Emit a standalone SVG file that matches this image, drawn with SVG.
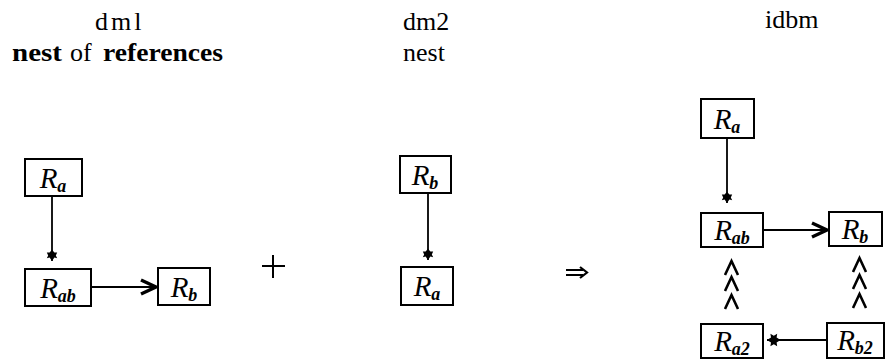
<svg xmlns="http://www.w3.org/2000/svg" width="888" height="361" viewBox="0 0 888 361">
<style>
.hdr{font-size:26px;fill:#000}
.bold{font-size:26px;font-weight:bold;fill:#000}
.box{fill:#fff;stroke:#000;stroke-width:2}
.lbl{font-style:italic;font-size:29px;fill:#000;text-anchor:middle}
.sub{font-size:18px;font-weight:bold}
.ln{stroke:#000;stroke-width:1.8;fill:none}
.chev{stroke:#000;stroke-width:2.6;fill:none;stroke-linejoin:miter}
</style>
<defs>
<marker id="starS" markerUnits="userSpaceOnUse" markerWidth="16" markerHeight="16" viewBox="-13 -8 16 16" refX="0" refY="0" orient="auto">
<polygon points="0,0 -3.4,2.4 -2.8,5.2 -5.6,3.8 -8.4,5.2 -8.4,2.4 -11.2,0 -8.4,-2.4 -8.4,-5.2 -5.6,-3.8 -2.8,-5.2 -3.4,-2.4" fill="#000"/>
</marker>
<marker id="starL" markerUnits="userSpaceOnUse" markerWidth="18" markerHeight="18" viewBox="-15 -9 18 18" refX="0" refY="0" orient="auto">
<polygon points="0,0 -4,2.4 -3.4,6.2 -6.8,4.2 -10.2,6.2 -9.6,2.4 -13.6,0 -9.6,-2.4 -10.2,-6.2 -6.8,-4.2 -3.4,-6.2 -4,-2.4" fill="#000"/>
</marker>
<marker id="vee" markerUnits="userSpaceOnUse" markerWidth="22" markerHeight="20" viewBox="-19 -10 22 20" refX="0" refY="0" orient="auto">
<path d="M-16,-7 L-1,0 L-16,7" fill="none" stroke="#000" stroke-width="3.4" stroke-linejoin="miter"/>
</marker>
</defs>

<g id="headers" font-family="Liberation Serif, Tinos, Times New Roman, Times, Noto Serif, DejaVu Serif, FreeSerif, serif">
<text class="hdr" x="95" y="30" letter-spacing="3">dml</text>
<text class="bold" x="12" y="61" textLength="50" lengthAdjust="spacingAndGlyphs">nest</text>
<text class="hdr" x="70" y="61">of</text>
<text class="bold" x="103" y="61" textLength="120" lengthAdjust="spacingAndGlyphs">references</text>
<text class="hdr" x="403" y="30">dm2</text>
<text class="hdr" x="403" y="61">nest</text>
<text class="hdr" x="765" y="28">idbm</text>
</g>

<g id="connectors">
<line class="ln" x1="52" y1="196" x2="52" y2="261" marker-end="url(#starS)"/>
<line class="ln" x1="91" y1="287" x2="157" y2="287" marker-end="url(#vee)"/>
<line class="ln" x1="428" y1="193" x2="428" y2="260" marker-end="url(#starS)"/>
<line class="ln" x1="727" y1="138" x2="727" y2="203" marker-end="url(#starS)"/>
<line class="ln" x1="763" y1="230" x2="828" y2="230" marker-end="url(#vee)"/>
<line class="ln" x1="827" y1="340" x2="767" y2="340" marker-end="url(#starL)"/>
<path class="chev" d="M725,275 L731.5,261 L738,275 M725,291 L731.5,277 L738,291 M725,309 L731.5,295 L738,309"/>
<path class="chev" d="M853,272 L859.5,258 L866,272 M853,289 L859.5,275 L866,289 M853,308 L859.5,294 L866,308"/>
</g>

<g id="plus">
<path d="M262,266 H285 M273,255 V278" stroke="#000" stroke-width="2" fill="none"/>
</g>
<g id="implies">
<path d="M566,270 H583 M566,275 H583 M580,267 L587,272.5 L580,278" stroke="#000" stroke-width="2.2" fill="none"/>
</g>

<g id="nodes" font-family="Liberation Serif, Tinos, Times New Roman, Times, Noto Serif, DejaVu Serif, FreeSerif, serif">
<g id="dml-Ra">
<rect class="box" x="25" y="159" width="57" height="37"/>
<text class="lbl" x="53" y="188">R<tspan class="sub" dy="4">a</tspan></text>
</g>
<g id="dml-Rab">
<rect class="box" x="25" y="269" width="66" height="37"/>
<text class="lbl" x="58" y="298">R<tspan class="sub" dy="4">ab</tspan></text>
</g>
<g id="dml-Rb">
<rect class="box" x="158" y="268" width="52" height="37"/>
<text class="lbl" x="184" y="297">R<tspan class="sub" dy="4">b</tspan></text>
</g>
<g id="dm2-Rb">
<rect class="box" x="400" y="156" width="51" height="37"/>
<text class="lbl" x="425" y="185">R<tspan class="sub" dy="4">b</tspan></text>
</g>
<g id="dm2-Ra">
<rect class="box" x="401" y="267" width="52" height="38"/>
<text class="lbl" x="427" y="296">R<tspan class="sub" dy="4">a</tspan></text>
</g>
<g id="idbm-Ra">
<rect class="box" x="701" y="99" width="53" height="39"/>
<text class="lbl" x="727" y="129">R<tspan class="sub" dy="4">a</tspan></text>
</g>
<g id="idbm-Rab">
<rect class="box" x="701" y="213" width="62" height="34"/>
<text class="lbl" x="732" y="240">R<tspan class="sub" dy="4">ab</tspan></text>
</g>
<g id="idbm-Rb">
<rect class="box" x="829" y="212" width="53" height="34"/>
<text class="lbl" x="855" y="239">R<tspan class="sub" dy="4">b</tspan></text>
</g>
<g id="idbm-Ra2">
<rect class="box" x="701" y="324" width="62" height="34"/>
<text class="lbl" x="732" y="351">R<tspan class="sub" dy="4">a2</tspan></text>
</g>
<g id="idbm-Rb2">
<rect class="box" x="827" y="323" width="57" height="35"/>
<text class="lbl" x="855" y="350">R<tspan class="sub" dy="4">b2</tspan></text>
</g>
</g>
</svg>
